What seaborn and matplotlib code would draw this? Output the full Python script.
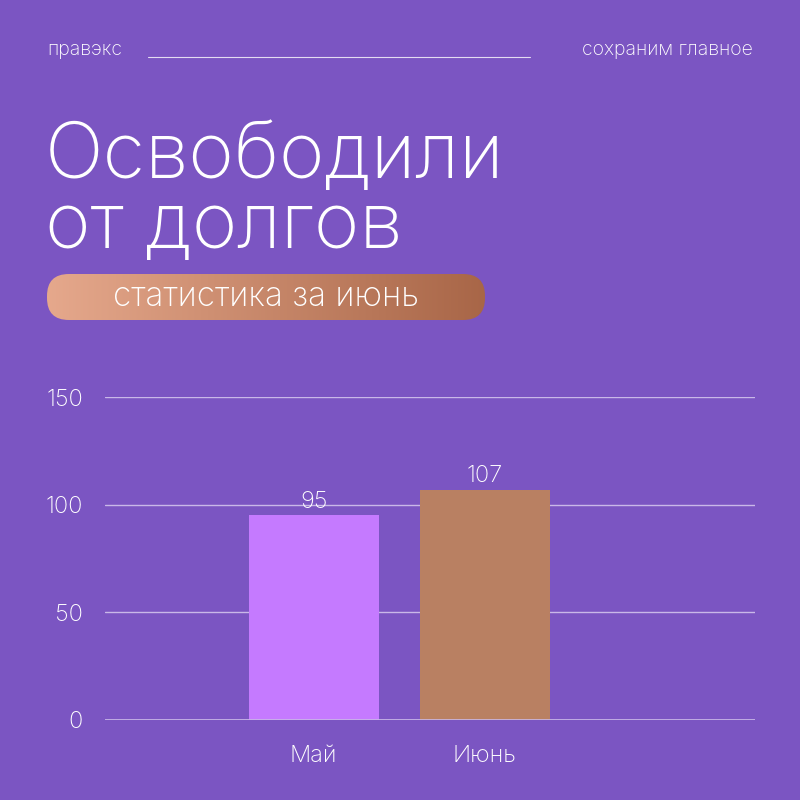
import matplotlib
matplotlib.use("Agg")
import matplotlib.pyplot as plt
import seaborn as sns
import numpy as np
import pandas as pd
from matplotlib.patches import FancyBboxPatch

categories = ["Май", "Июнь"]
values = [95, 107]
yticks = [0, 50, 100, 150]
bar_colors = ["#C57AFF", "#B98062"]
BG = "#7B55C2"

sns.set_theme(style="white")
plt.rcParams['font.family'] = ['Inter', 'DejaVu Sans']

fig = plt.figure(figsize=(8, 8), dpi=100, facecolor=BG)

# header
fig.text(47/800, 1-50/800, "правэкс", color="white", fontsize=14, va="center", fontweight="light")
fig.text(753/800, 1-50/800, "сохраним главное", color="white", fontsize=14, va="center", ha="right",
         fontweight="light")
fig.add_artist(plt.Line2D([148/800, 530/800], [1-57/800, 1-57/800], color="white", lw=0.8, alpha=0.8))

fig.text(45/800, 1-158/800, "Освободили", color="white", fontsize=56, va="center", fontweight="light")
fig.text(45/800, 1-228/800, "от долгов", color="white", fontsize=56, va="center", fontweight="light")

# gradient pill
pax = fig.add_axes([47/800, 1-320/800, 438/800, 46/800])
pax.set_axis_off()
grad = np.linspace(0, 1, 256)
c1 = np.array([0.90, 0.66, 0.55]); c2 = np.array([0.66, 0.40, 0.28])
img = (c1[None, :] * (1-grad[:, None]) + c2[None, :] * grad[:, None])[None, :, :]
im = pax.imshow(img, aspect="auto", extent=[0, 1, 0, 1])
pill = FancyBboxPatch((0, 0), 1, 1, boxstyle="round,pad=0,rounding_size=0.05",
                      transform=pax.transAxes, facecolor="none", edgecolor="none",
                      mutation_aspect=438/46)
pax.add_patch(pill)
im.set_clip_path(pill)
pax.set_xlim(0, 1); pax.set_ylim(0, 1)
pax.text(0.5, 0.5, "статистика за июнь", color="white", fontsize=24, ha="center", va="center",
         transform=pax.transAxes, fontweight="light")

# chart
ax = fig.add_axes([105/800, 1-720/800, 650/800, 323/800])
ax.set_facecolor(BG)
df = pd.DataFrame({"cat": categories, "val": values})
sns.barplot(data=df, x="cat", y="val", hue="cat", palette=bar_colors, width=0.76,
            ax=ax, legend=False, saturation=1, zorder=3, linewidth=0, edgecolor="none")
ax.set_xlim(-1.22, 2.58)
ax.set_ylim(0, 150)
ax.set_yticks(yticks)
ax.yaxis.grid(True, color="#C9B8E8", lw=1, zorder=0)
ax.axhline(0, color="#C9B8E8", lw=1.2, zorder=4)
for s in ax.spines.values():
    s.set_visible(False)
ax.set_xlabel(""); ax.set_ylabel("")
ax.tick_params(axis="y", colors="white", labelsize=17, length=0, pad=16)
ax.tick_params(axis="x", colors="white", labelsize=17, length=0, pad=18)
for lbl in ax.get_yticklabels() + ax.get_xticklabels():
    lbl.set_fontweight("light")
for c in ax.containers:
    ax.bar_label(c, color="white", fontsize=17, padding=2, fontweight="light")

fig.savefig("out.png", dpi=100, facecolor=BG)
